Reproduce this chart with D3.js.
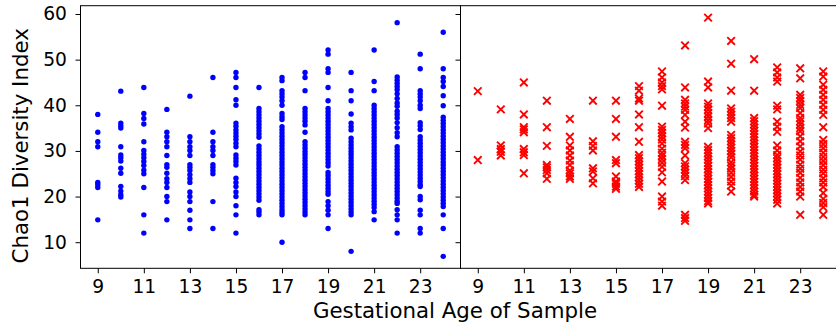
<!DOCTYPE html>
<html>
<head>
<meta charset="utf-8">
<script src="https://cdn.jsdelivr.net/npm/d3@7"></script>
<style>
  html, body { margin: 0; padding: 0; background: #fff; }
  svg { display: block; }
  text { font-family: "DejaVu Sans", sans-serif; }
</style>
</head>
<body>
<svg id="chart" width="836" height="326"></svg>
<script>
// ---- data ----
const ages = [9, 10, 11, 12, 13, 14, 15, 16, 17, 18, 19, 20, 21, 22, 23, 24];

const leftChao1 = [
  [38, 34.1, 32, 30.9, 23.1, 22.6, 22, 14.9],
  [43.1, 36.1, 35.5, 35, 30.9, 29.1, 28.5, 27.8, 26.2, 25.1, 22.2, 21.2, 20.4, 19.9],
  [43.9, 38.2, 37.1, 35.9, 32, 30.1, 29.3, 28.5, 27.7, 26.8, 25.8, 25, 22, 16, 12],
  [39.1, 34.1, 33.1, 32, 30.9, 29, 27, 26.4, 25.1, 23.9, 23.1, 22, 20, 18.9, 14.9],
  [42, 33.1, 32, 30.9, 30.1, 29, 27, 26.4, 25.7, 24.8, 23.9, 23.1, 21, 20, 18.9, 17, 14.9, 13],
  [46.1, 34.1, 32, 30.9, 30.1, 29, 27, 26.4, 25.7, 25, 18.9, 13],
  [47.2, 46.1, 43.9, 41.2, 40, 36.1, 35.4, 34.6, 33.9, 33.2, 32.5, 31.7, 30.9, 29.1, 28.4, 27.7, 26.9, 24, 23.1, 22.2, 21, 20, 18, 16, 12],
  [43.9, 39.3, 38.6, 37.9, 37.2, 36.5, 35.8, 35.1, 34.4, 33.7, 33, 31.1, 30.4, 29.7, 29, 28.3, 27.6, 26.9, 26.2, 25.5, 24.8, 24.1, 23.4, 22.7, 22, 21.3, 20.6, 19.9, 19.2, 17.1, 16.6, 16],
  [46.1, 45.4, 43.2, 42.5, 41.8, 41, 40, 38.2, 37.5, 36.9, 35.3, 34.6, 33.9, 33.2, 32.5, 31.8, 31.1, 30.4, 29.7, 29, 28.3, 27.6, 26.9, 26.2, 25.5, 24.8, 24.1, 23.4, 22.7, 22, 21.3, 20.6, 19.9, 19.2, 18.5, 17.8, 17.1, 16.5, 16, 10],
  [47.2, 46.1, 43.2, 39.3, 38.6, 37.9, 37.2, 36.5, 35.7, 34.1, 32, 31.3, 30.6, 29.9, 29.2, 28.5, 27.8, 27.1, 26.4, 25.7, 25, 24.3, 23.6, 22.9, 22.2, 21.5, 20.8, 20.1, 19.4, 18.7, 18, 17.3, 16.6, 16],
  [52.1, 51.2, 48, 47.2, 43.9, 41, 39.3, 38.6, 37.9, 37.2, 36.5, 35.8, 35.1, 34.4, 33.7, 33, 32.3, 31.6, 30.9, 30.2, 29.5, 28.8, 28.1, 27.4, 26.7, 25.3, 24.6, 23.9, 23.2, 22.5, 21.8, 21.1, 20.5, 18.9, 18, 17, 16, 13],
  [47.2, 43.2, 41, 38.1, 36.1, 35.3, 34.6, 32.8, 32, 31.3, 30.6, 29.9, 29.2, 28.5, 27.8, 27.1, 26.4, 25.7, 25, 24.3, 23.6, 22.9, 22.2, 21.5, 20.8, 20.1, 19.4, 18.7, 18, 17.3, 16.6, 16, 8],
  [52.1, 45.2, 43.2, 40, 39.3, 38.6, 37.9, 37.2, 36.5, 35.8, 35.1, 34.4, 33.7, 33, 32.3, 31.6, 30.9, 30.2, 29.5, 28.8, 28.1, 27.4, 26.7, 26, 25.3, 24.6, 23.9, 23.2, 22.5, 21.8, 21.1, 20.4, 19.7, 19, 18.3, 17.6, 16.7, 14.9],
  [58.1, 46.2, 45.5, 44.8, 44.1, 43.4, 42.5, 41.5, 40.5, 39.8, 38.7, 38, 37.2, 36.2, 35.1, 34, 33.1, 30.9, 30.2, 29.5, 28.8, 28.1, 27.4, 26.7, 26, 25.3, 24.6, 23.9, 23.2, 22.5, 21.8, 21.1, 20.4, 19.7, 19, 18.5, 17.1, 16, 14.9, 12],
  [51.2, 48, 43.2, 42.5, 41.8, 41, 40, 39.3, 36.2, 35.5, 34.7, 33.1, 32.4, 31.7, 31, 30.3, 29.6, 28.9, 28.2, 27.5, 26.8, 26.1, 25.4, 24.7, 24, 23.3, 22.6, 22.2, 20, 19.3, 17, 16, 13, 12],
  [56, 48, 46.1, 45.2, 44.1, 42.1, 39.9, 37.4, 36.7, 36, 35.3, 34.6, 33.9, 33.2, 32.5, 31.8, 31.1, 30.4, 29.7, 29, 28.3, 27.6, 26.9, 26.2, 25.5, 24.8, 24.1, 23.4, 22.7, 22, 21.3, 20.6, 19.9, 19.2, 18.5, 17.8, 16, 13, 6.9]
];

const rightChao1 = [
  [43.1, 28],
  [39.1, 31.2, 30.4, 29.8, 29],
  [45, 38, 35.2, 34.7, 34.1, 30.4, 29.7, 29.1, 25.1],
  [41, 35.2, 31.1, 26.9, 26.4, 25.8, 25.1, 23.9],
  [37, 33.1, 31.2, 30.1, 29, 27.9, 26.9, 25.7, 25.1, 24.4, 23.9],
  [41, 32.1, 31.1, 30.1, 26.2, 25.5, 24, 22.9],
  [41, 37, 33.1, 28, 27.3, 24.4, 23.3, 22.8, 22.2, 21.7],
  [44.2, 43.2, 41.5, 41, 38, 35.2, 32, 29.1, 28.4, 27.7, 27, 26.3, 25.6, 24.9, 24.2, 23.5, 22.8, 22.1],
  [47.4, 46.1, 45, 44.2, 43.5, 39.9, 35.3, 34.6, 33.9, 33.2, 32.5, 31.6, 30.5, 29.6, 28.9, 28.2, 27.4, 26.5, 25.3, 23.3, 20, 18.9, 18],
  [53.1, 43.9, 41.2, 40.4, 39.7, 39, 37.9, 36.4, 35.1, 32, 31.3, 30.6, 29, 27.3, 26.6, 25.9, 25.2, 24.5, 23.6, 16, 15.3, 14.7],
  [59.2, 45.2, 43.9, 40.4, 39.7, 39, 38.2, 37.5, 36.7, 36, 35, 30.9, 30.2, 29.5, 28.8, 28.1, 27.4, 26.7, 26, 25.3, 24.6, 23.9, 23.2, 22.5, 21.8, 21.1, 20.4, 19.7, 19, 18.5],
  [54.1, 49.1, 43.2, 39.3, 38.6, 37.9, 37.2, 36.4, 33.5, 32.8, 32.1, 31.4, 30.7, 30, 29.3, 28.6, 27.5, 26.8, 26.1, 25.2, 24.3, 23.3, 22.4, 21.1],
  [50.1, 43.2, 37.2, 36.5, 35.8, 35.1, 34.4, 33.7, 33, 32.3, 31.6, 30.9, 30.2, 29.5, 28.8, 28.1, 27.4, 26.7, 26, 25.3, 24.6, 23.9, 23.2, 22.5, 21.8, 21.1, 20.4, 20],
  [48.3, 47.2, 46.1, 45.2, 39.9, 39.1, 36.4, 35.3, 34.2, 31.2, 30.1, 29.1, 28.4, 27.7, 27, 26.3, 25.6, 24.9, 24.2, 23.5, 22.8, 22.1, 21.4, 20.7, 20, 19.3, 18.5],
  [48.1, 45.9, 42.3, 41.6, 40.9, 40.1, 39.4, 38.3, 37.2, 36.5, 35.8, 35, 34.3, 33.2, 32.1, 31, 29.9, 29, 28.1, 27, 26.1, 25.2, 24.1, 23.1, 22.1, 21.1, 20, 16],
  [47.4, 46.3, 44.5, 43.4, 42.3, 41.2, 40.1, 39, 37.9, 35.2, 32.4, 31.5, 30.6, 29.6, 28.7, 27.8, 26.9, 25.9, 25.1, 24, 23.1, 22.1, 20.8, 19.5, 18.6, 17.7, 16]
];

const xTicks = [9, 11, 13, 15, 17, 19, 21, 23];
const yTicks = [10, 20, 30, 40, 50, 60];
const xLabel = "Gestational Age of Sample";
const yLabel = "Chao1 Diversity Index";

// ---- layout ----
const svg = d3.select("#chart");
const plotTop = 5.7, plotBottom = 268.3;
const panelW = 380;
const panels = [
  { x0: 80.5, data: leftChao1, kind: "dot", color: "#0000ff", labels: true },
  { x0: 460.5, data: rightChao1, kind: "x", color: "#ff0000", labels: false }
];

const y = d3.scaleLinear().domain([4.285, 61.815]).range([plotBottom, plotTop]);
const tickFont = 18.67;
const labelFont = 21.33;
const ink = "#000";

panels.forEach(p => {
  const x = d3.scaleLinear().domain([8.25, 24.75]).range([p.x0, p.x0 + panelW]);
  const g = svg.append("g");

  const pts = [];
  p.data.forEach((vals, i) => vals.forEach(v => pts.push({ age: ages[i], v })));

  if (p.kind === "dot") {
    g.selectAll("circle").data(pts).join("circle")
      .attr("cx", d => x(d.age)).attr("cy", d => y(d.v))
      .attr("r", 2.7).attr("fill", p.color);
  } else {
    const s = 3.8;
    g.selectAll("path.mk").data(pts).join("path").attr("class", "mk")
      .attr("d", d => {
        const cx = x(d.age), cy = y(d.v);
        return `M${cx - s},${cy - s}L${cx + s},${cy + s}M${cx - s},${cy + s}L${cx + s},${cy - s}`;
      })
      .attr("stroke", p.color).attr("stroke-width", 1.9).attr("fill", "none");
  }

  // x axis
  const xa = g.append("g").attr("transform", `translate(0,${plotBottom})`)
    .call(d3.axisBottom(x).tickValues(xTicks).tickSize(5).tickSizeOuter(0).tickPadding(6.5));
  xa.select(".domain").remove();
  xa.selectAll(".tick line").attr("stroke", ink).attr("stroke-width", 1);
  xa.selectAll(".tick text").attr("fill", ink).attr("font-size", tickFont)
    .attr("font-family", "DejaVu Sans, sans-serif");

  // y axis
  const ya = g.append("g").attr("transform", `translate(${p.x0},0)`)
    .call(d3.axisLeft(y).tickValues(yTicks).tickSize(5).tickSizeOuter(0).tickPadding(8.5));
  ya.select(".domain").remove();
  ya.selectAll(".tick line").attr("stroke", ink).attr("stroke-width", 1);
  if (p.labels) {
    ya.selectAll(".tick text").attr("fill", ink).attr("font-size", tickFont)
      .attr("font-family", "DejaVu Sans, sans-serif");
  } else {
    ya.selectAll(".tick text").remove();
  }

  // frame
  g.append("rect").attr("x", p.x0).attr("y", plotTop)
    .attr("width", panelW).attr("height", plotBottom - plotTop)
    .attr("fill", "none").attr("stroke", ink).attr("stroke-width", 1);
});

svg.append("text").attr("x", 455).attr("y", 318)
  .attr("text-anchor", "middle").attr("font-size", labelFont).attr("fill", ink)
  .text(xLabel);

svg.append("text").attr("transform", `translate(28,145.8) rotate(-90)`)
  .attr("text-anchor", "middle").attr("font-size", labelFont).attr("fill", ink)
  .text(yLabel);
</script>
</body>
</html>
